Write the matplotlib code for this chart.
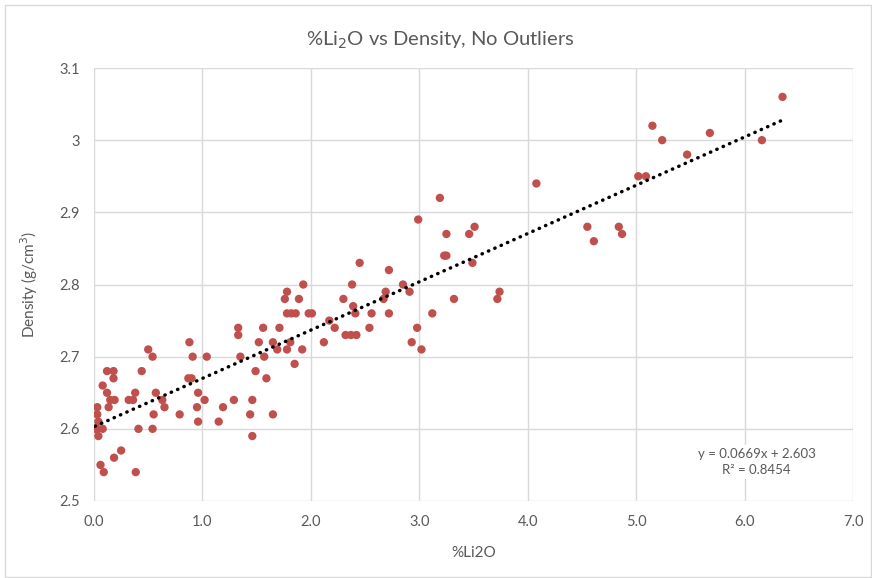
import matplotlib
matplotlib.use("Agg")
import matplotlib.pyplot as plt
from matplotlib.patches import Rectangle

# %Li2O content and measured density (g/cm^3)
li2o = [0.03, 0.03, 0.04, 0.03, 0.08, 0.04, 0.01,
        0.06, 0.09,
        0.08, 0.12, 0.18, 0.18, 0.12, 0.135, 0.15, 0.19,
        0.185, 0.25, 0.385,
        0.32, 0.36, 0.38, 0.44,
        0.41, 0.54,
        0.50, 0.54,
        0.55, 0.57, 0.63, 0.65,
        0.79,
        0.88, 0.91, 0.87, 0.90,
        0.96, 0.95, 1.02, 0.96, 1.04,
        1.15, 1.19, 1.29,
        1.33, 1.33, 1.35,
        1.46, 1.44, 1.46,
        1.49, 1.52, 1.56, 1.57, 1.59,
        1.65,
        1.65, 1.69, 1.71,
        1.78, 1.81, 1.92, 1.85,
        1.76, 1.78, 1.89, 1.93,
        1.78, 1.82, 1.86, 1.98, 2.01,
        2.12, 2.17, 2.22,
        2.30, 2.32, 2.37, 2.42,
        2.38, 2.39, 2.41, 2.45,
        2.54, 2.56,
        2.67, 2.69, 2.72, 2.72,
        2.85, 2.91,
        2.93, 2.98, 3.02,
        2.99,
        3.12,
        3.19,
        3.23, 3.25, 3.25,
        3.32,
        3.46, 3.51, 3.49,
        3.72, 3.74,
        4.08,
        4.55, 4.61,
        4.84, 4.87,
        5.02, 5.09,
        5.15, 5.24,
        5.47, 5.68,
        6.16, 6.35]

density = [2.63, 2.62, 2.61, 2.60, 2.60, 2.59, 2.60,
           2.55, 2.54,
           2.66, 2.68, 2.68, 2.67, 2.65, 2.63, 2.64, 2.64,
           2.56, 2.57, 2.54,
           2.64, 2.64, 2.65, 2.68,
           2.60, 2.60,
           2.71, 2.70,
           2.62, 2.65, 2.64, 2.63,
           2.62,
           2.72, 2.70, 2.67, 2.67,
           2.65, 2.63, 2.64, 2.61, 2.70,
           2.61, 2.63, 2.64,
           2.74, 2.73, 2.70,
           2.64, 2.62, 2.59,
           2.68, 2.72, 2.74, 2.70, 2.67,
           2.62,
           2.72, 2.71, 2.74,
           2.71, 2.72, 2.71, 2.69,
           2.78, 2.79, 2.78, 2.80,
           2.76, 2.76, 2.76, 2.76, 2.76,
           2.72, 2.75, 2.74,
           2.78, 2.73, 2.73, 2.73,
           2.80, 2.77, 2.76, 2.83,
           2.74, 2.76,
           2.78, 2.79, 2.76, 2.82,
           2.80, 2.79,
           2.72, 2.74, 2.71,
           2.89,
           2.76,
           2.92,
           2.84, 2.84, 2.87,
           2.78,
           2.87, 2.88, 2.83,
           2.78, 2.79,
           2.94,
           2.88, 2.86,
           2.88, 2.87,
           2.95, 2.95,
           3.02, 3.00,
           2.98, 3.01,
           3.00, 3.06]

# Linear trendline coefficients
slope = 0.0669
intercept = 2.603
r_squared = 0.8454

x_ticks = [0.0, 1.0, 2.0, 3.0, 4.0, 5.0, 6.0, 7.0]
x_tick_labels = ["0.0", "1.0", "2.0", "3.0", "4.0", "5.0", "6.0", "7.0"]
y_ticks = [2.5, 2.6, 2.7, 2.8, 2.9, 3.0, 3.1]
y_tick_labels = ["2.5", "2.6", "2.7", "2.8", "2.9", "3", "3.1"]

TEXT = "#595959"
GRID = "#D9D9D9"
RED = "#C0504D"

plt.rcParams["font.family"] = ["Lato", "DejaVu Sans"]

fig = plt.figure(figsize=(8.72, 5.78), dpi=100)
ax = fig.add_axes([94 / 872, 1 - 501 / 578, 759 / 872, 433 / 578])

ax.scatter(li2o, density, s=36, color=RED, edgecolors="none", zorder=3)

x0, x1 = min(li2o), max(li2o)
ax.plot([x0, x1], [intercept + slope * x0, intercept + slope * x1],
        color="black", linewidth=2.5, linestyle=(0, (0.1, 1.9)),
        dash_capstyle="round", zorder=4)

ax.set_xlim(0, 7)
ax.set_ylim(2.5, 3.1)
ax.set_xticks(x_ticks)
ax.set_xticklabels(x_tick_labels)
ax.set_yticks(y_ticks)
ax.set_yticklabels(y_tick_labels)
ax.grid(True, color=GRID, linewidth=1.0, zorder=0)
ax.set_axisbelow(True)
for sp in ax.spines.values():
    sp.set_visible(False)
ax.tick_params(length=0, labelsize=10.5, colors=TEXT, pad=10)

ax.set_xlabel("%Li2O", fontsize=11, color=TEXT, labelpad=12)
ax.set_ylabel("Density (g/cm$^3$)", fontsize=11, color=TEXT, labelpad=14)

fig.text(0.505, 0.93, "%Li$_2$O vs Density, No Outliers", ha="center",
         va="center", fontsize=14.5, color=TEXT)

ax.text(0.873, 0.09,
        "y = {:.4f}x + {:.3f}\nR\u00b2 = {:.4f}".format(slope, intercept, r_squared),
        transform=ax.transAxes, ha="center", va="center", fontsize=9.5,
        color=TEXT, linespacing=1.35, zorder=5,
        bbox=dict(boxstyle="square,pad=0.25", facecolor="white",
                  edgecolor="none"))

# Outer chart border
fig.patches.append(Rectangle((5 / 872, 0.002), 1 - 6 / 872, 1 - 5 / 578 - 0.002,
                             transform=fig.transFigure, fill=False,
                             edgecolor="#D9D9D9", linewidth=1.0))

fig.savefig("out.png", dpi=100, facecolor="white")
